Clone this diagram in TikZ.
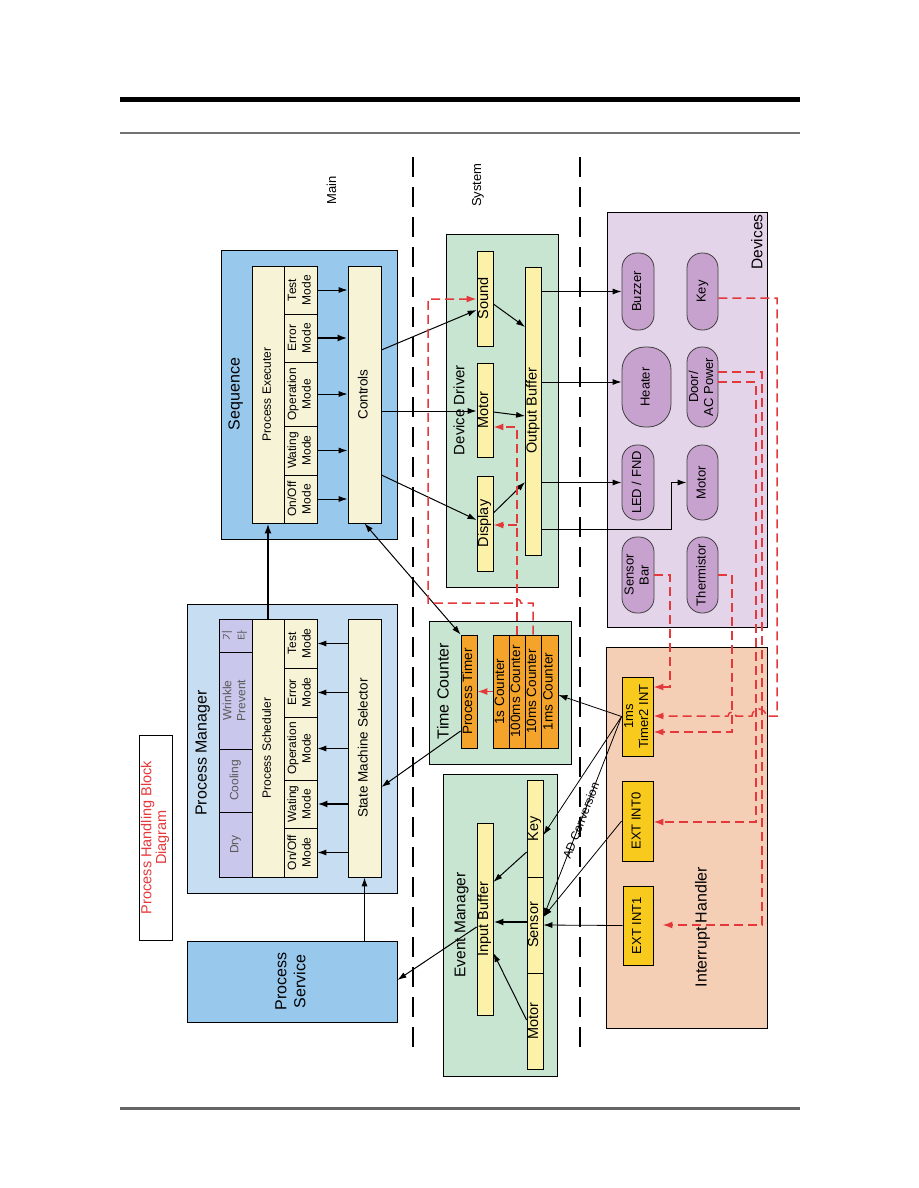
\documentclass[tikz,border=0pt]{standalone}
\usepackage{fontspec}
\setmainfont{Liberation Sans}
\newfontfamily\krfont{Noto Sans CJK KR}
\usepackage{graphicx}
\usetikzlibrary{arrows.meta,calc}
\definecolor{seqblue}{HTML}{98C8EC}
\definecolor{pmblue}{HTML}{C6DDF2}
\definecolor{cream}{HTML}{F6F3D7}
\definecolor{lav}{HTML}{C9C7EC}
\definecolor{grn}{HTML}{C8E5D2}
\definecolor{ylw}{HTML}{FBF1A9}
\definecolor{org}{HTML}{F4A42A}
\definecolor{devbg}{HTML}{E4D4EA}
\definecolor{devnode}{HTML}{C8A2CE}
\definecolor{peach}{HTML}{F5CEB6}
\definecolor{gold}{HTML}{F8CA1E}
\definecolor{rdc}{HTML}{E5383B}
\newcommand\rt[1]{\rotatebox{90}{\begin{tabular}{@{}c@{}}#1\end{tabular}}}
\newcommand\bx[7]{\node[#1, minimum width={#5-#3}, minimum height={#6-#4}] (#2) at ({(#3+#5)/2},{(#4+#6)/2}) {#7};}
\tikzset{
  cont/.style={draw, line width=0.9pt, inner sep=0pt},
  cell/.style={draw, line width=0.8pt, inner sep=0pt, fill=cream, font=\fontsize{12}{14.5}\selectfont},
  ybox/.style={cell, fill=ylw, font=\fontsize{14.5}{16}\selectfont},
  obox/.style={cell, fill=org, font=\fontsize{13.5}{15}\selectfont},
  lbox/.style={cell, fill=lav, font=\fontsize{12}{14}\selectfont\color{black!65}},
  dnode/.style={draw=black!75, line width=0.8pt, inner sep=0pt, fill=devnode, rounded corners=15pt, font=\fontsize{13}{15}\selectfont},
  gbox/.style={cell, fill=gold, font=\fontsize{13}{15}\selectfont},
  ttl/.style={inner sep=0pt, font=\fontsize{16}{18}\selectfont},
  arr/.style={line width=1pt, -{Latex[length=9pt,width=6pt]}},
  arrb/.style={line width=2pt, -{Latex[length=10pt,width=7pt]}},
  arr2/.style={line width=1pt, {Latex[length=9pt,width=6pt]}-{Latex[length=9pt,width=6pt]}},
  rdash/.style={draw=rdc, line width=1.5pt, dash pattern=on 9pt off 5pt, -{Latex[length=10pt,width=7pt]}},
  sep/.style={line width=2.6pt, dash pattern=on 20pt off 10pt},
}
\begin{document}
\begin{tikzpicture}[x=1pt,y=-1pt]
\useasboundingbox (0,0) rectangle (918,1188);
\fill[white] (0,0) rectangle (918,1188);
% header / footer rules
\draw[line width=5pt] (120,100) -- (800,100);
\draw[line width=2pt, black!55] (120,133) -- (800,133);
\draw[line width=3pt, black!60] (120,1108) -- (800,1108);
% separators
\draw[sep] (413,157) -- (413,1056);
\draw[sep] (580,157) -- (580,1056);
\node[ttl, font=\fontsize{13}{15}\selectfont] (lmain) at (333,190) {\rt{Main}};
\node[ttl, font=\fontsize{13}{15}\selectfont] (lsys) at (478,185) {\rt{System}};

% Process handling block diagram title
\bx{cell, fill=white, font=\fontsize{14.5}{14}\selectfont\color{rdc}}{phb}{139}{735}{172}{940}{\rt{Process Handling Block\\Diagram}}

% Sequence
\bx{cont, fill=seqblue}{seq}{221}{250}{397}{539}{}
\node[ttl] (seqT) at (236,394) {\rt{Sequence}};
\bx{cell}{pexec}{252}{266}{284}{523}{\rt{Process Executer}}
\bx{cell}{em1}{284}{266}{317}{314}{\rt{Test\\Mode}}
\bx{cell}{em2}{284}{314}{317}{362}{\rt{Error\\Mode}}
\bx{cell}{em3}{284}{362}{317}{426}{\rt{Operation\\Mode}}
\bx{cell}{em4}{284}{426}{317}{475}{\rt{Wating\\Mode}}
\bx{cell}{em5}{284}{475}{317}{523}{\rt{On/Off\\Mode}}
\bx{cell, font=\fontsize{13.5}{15}\selectfont}{ctrl}{348}{266}{381}{523}{\rt{Controls}}
\draw[arr] (em1.east) -- (ctrl.west |- em1.east);
\draw[arrb] (em2.east) -- (ctrl.west |- em2.east);
\draw[arr] (em3.east) -- (ctrl.west |- em3.east);
\draw[arr] (em4.east) -- (ctrl.west |- em4.east);
\draw[arr] (em5.east) -- (ctrl.west |- em5.east);

% Process Manager
\bx{cont, fill=pmblue}{pm}{187}{604}{397}{893}{}
\node[ttl] (pmT) at (203,753) {\rt{Process Manager}};
\bx{lbox, font=\fontsize{11}{15}\selectfont\color{black!65}}{etc}{219}{619}{252}{652}{\rt{{\krfont 기}\\{\krfont 타}}}
\bx{lbox}{wrk}{219}{652}{252}{749}{\rt{Wrinkle\\Prevent}}
\bx{lbox}{cool}{219}{749}{252}{812}{\rt{Cooling}}
\bx{lbox}{dry}{219}{812}{252}{877}{\rt{Dry}}
\bx{cell}{sched}{252}{619}{284}{877}{\rt{Process Scheduler}}
\bx{cell}{sm1}{284}{619}{317}{668}{\rt{Test\\Mode}}
\bx{cell}{sm2}{284}{668}{317}{717}{\rt{Error\\Mode}}
\bx{cell}{sm3}{284}{717}{317}{780}{\rt{Operation\\Mode}}
\bx{cell}{sm4}{284}{780}{317}{828}{\rt{Wating\\Mode}}
\bx{cell}{sm5}{284}{828}{317}{877}{\rt{On/Off\\Mode}}
\bx{cell, font=\fontsize{13.5}{15}\selectfont}{sel}{348}{619}{381}{877}{\rt{State Machine Selector}}
\draw[arr] (sel.west |- sm1.east) -- (sm1.east);
\draw[arr] (sel.west |- sm2.east) -- (sm2.east);
\draw[arr] (sel.west |- sm3.east) -- (sm3.east);
\draw[arrb] (sel.west |- sm4.east) -- (sm4.east);
\draw[arr] (sel.west |- sm5.east) -- (sm5.east);
\draw[arrb] (sched.north) -- (pexec.south);

% Process Service
\bx{cont, fill=seqblue, font=\fontsize{16}{19}\selectfont}{ps}{187}{941}{397}{1022}{\rt{Process\\Service}}
\draw[arr] (ps.north -| sel.south) -- (sel.south);

% Device Driver
\bx{cont, fill=grn}{dd}{446}{234}{558}{587}{}
\node[ttl, font=\fontsize{15}{17}\selectfont] (ddT) at (461,410) {\rt{Device Driver}};
\bx{ybox}{snd}{477}{251}{493}{346}{\rt{Sound}}
\bx{ybox}{dmot}{477}{363}{493}{457}{\rt{Motor}}
\bx{ybox}{disp}{477}{476}{493}{571}{\rt{Display}}
\bx{ybox}{ob}{526}{267}{541}{555}{\rt{Output Buffer}}
\draw[arr] (snd.east |- 0,304) -- (ob.west |- 0,327);
\draw[arr] (dmot.east |- 0,412) -- (ob.west |- 0,416);
\draw[arr] (disp.east |- 0,513) -- (ob.west |- 0,482);
\draw[arr] (ctrl.east |- 0,350) -- (snd.west |- 0,310);
\draw[arr] (ctrl.east |- 0,411) -- (dmot.west |- 0,411);
\draw[arr] (ctrl.east |- 0,475) -- (disp.west |- 0,520);

% Time Counter
\bx{cont, fill=grn}{tc}{429}{621}{571}{764}{}
\node[ttl] (tcT) at (445,691) {\rt{Time Counter}};
\bx{obox}{ptimer}{461}{635}{477}{748}{\rt{Process Timer}}
\bx{obox}{c1}{493}{635}{509}{748}{\rt{1s Counter}}
\bx{obox}{c2}{509}{635}{525}{748}{\rt{100ms Counter}}
\bx{obox}{c3}{525}{635}{541}{748}{\rt{10ms Counter}}
\bx{obox}{c4}{541}{635}{558}{748}{\rt{1ms Counter}}
\draw[line width=1.5pt, draw=rdc, -{Latex[length=10pt,width=7pt]}, rdc] (c1.west) -- (ptimer.east);
\draw[arr2] (ctrl.south) -- (ptimer.north west);
\draw[arr] (ptimer.west |- 0,731) -- (sel.east |- 0,787);

% red dashed: time counter -> device driver
\draw[rdash] (c3.north) -- (c3.north |- 0,603) -- (521,603) arc[start angle=0, end angle=180, radius=4pt] -- (428,603) -- (428,299) -- (snd.west |- 0,299);
\draw[rdash] (c2.north) -- (c2.north |- 0,427) -- (dmot.east |- 0,427);
\draw[rdash] (c2.north |- 0,525) -- (disp.east |- 0,525);

% Event Manager
\bx{cont, fill=grn}{em}{443}{774}{557}{1076}{}
\node[ttl, font=\fontsize{15.5}{17}\selectfont] (emT) at (462,925) {\rt{Event Manager}};
\bx{ybox}{ib}{477}{823}{493}{1015}{\rt{Input Buffer}}
\bx{ybox}{ekey}{527}{780}{543}{877}{\rt{Key}}
\bx{ybox}{esen}{527}{877}{543}{973}{\rt{Sensor}}
\bx{ybox}{emot}{527}{973}{543}{1069}{\rt{Motor}}
\draw[arr] (ekey.west |- 0,852) -- (ib.east |- 0,882);
\draw[arrb] (esen.west |- 0,922) -- (ib.east |- 0,922);
\draw[arr] (emot.west |- 0,1020) -- (ib.east |- 0,953);
\draw[arr] (ib.west |- 0,927) -- (ps.east |- 0,980);

% Devices
\bx{cont, fill=devbg}{dev}{607}{212}{767}{627}{}
\node[ttl, font=\fontsize{15.5}{17}\selectfont] (devT) at (759,242) {\rt{Devices}};
\bx{dnode}{buz}{622}{253}{654}{330}{\rt{Buzzer}}
\bx{dnode, rounded corners=23pt}{heat}{622}{347}{671}{427}{\rt{Heater}}
\bx{dnode}{led}{622}{445}{654}{520}{\rt{LED / FND}}
\bx{dnode}{sbar}{622}{537}{654}{613}{\rt{Sensor\\Bar}}
\bx{dnode}{key}{687}{253}{718}{330}{\rt{Key}}
\bx{dnode}{door}{687}{347}{718}{427}{\rt{Door/\\AC Power}}
\bx{dnode}{dmo}{687}{445}{718}{520}{\rt{Motor}}
\bx{dnode}{therm}{687}{537}{718}{613}{\rt{Thermistor}}
\draw[arr] (ob.east |- buz.west) -- (buz.west);
\draw[arr] (ob.east |- 0,382) -- (heat.west |- 0,382);
\draw[arr] (ob.east |- led.west) -- (led.west);
\draw[arr] (ob.east |- 0,529) -| ($(dmo.west)+(-15,0)$) -- (dmo.west);

% Interrupt Handler
\bx{cont, fill=peach}{ih}{606}{647}{767}{1028}{}
\node[ttl] (ihT) at (703,927) {\rt{Interrupt Handler}};
\bx{gbox}{t2}{622}{677}{653}{756}{\rt{1ms\\Timer2 INT}}
\bx{gbox}{e0}{622}{781}{653}{861}{\rt{EXT INT0}}
\bx{gbox}{e1}{623}{886}{653}{965}{\rt{EXT INT1}}

% red dashed: devices -> interrupts
\draw[rdash] (sbar.east) -- (670,575) -- (670,687) -- (t2.east |- 0,687);
\draw[rdash] (therm.east) -- (732,575) -- (732,732) -- (t2.east |- 0,732);
\draw[rdash] (key.east |- 0,298) -- (777,298) -- (777,716) -- (766,716) arc[start angle=0, end angle=180, radius=7pt] -- (736,716) arc[start angle=0, end angle=180, radius=4pt] -- (t2.east |- 0,716);
\draw[rdash] (door.east |- 0,382) -- (756,382) -- (756,822) -- (e0.east |- 0,822);
\draw[rdash] (door.east |- 0,372) -- (762,372) -- (762,925) -- ($(e1.east |- 0,925)+(9,0)$);

% interrupts -> counters / events
\draw[arr, line width=0.8pt] (t2.west) -- (c4.east |- 0,695);
\draw[arr, line width=0.8pt] (t2.west) -- (ekey.east |- 0,835);
\draw[arr, line width=0.8pt] (t2.west) -- node[sloped, pos=0.52, inner sep=0pt, font=\fontsize{12}{14}\selectfont] (adc) {AD Conversion} (esen.east |- 0,917);
\draw[arr, line width=0.8pt] (e0.west) -- (esen.east |- 0,917);
\draw[arr, line width=0.8pt] (e1.west) -- (esen.east |- 0,925);
\end{tikzpicture}
\end{document}
